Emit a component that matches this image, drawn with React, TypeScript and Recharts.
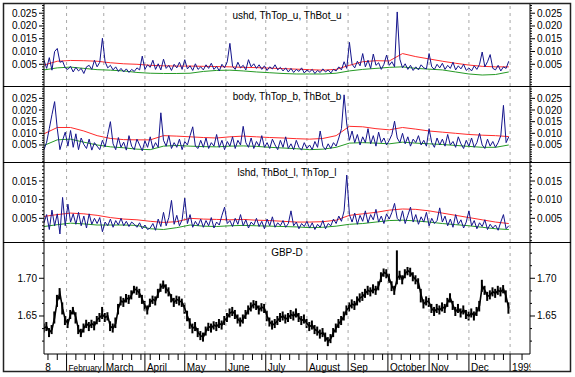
import React from "react";
import { ComposedChart, Line, Bar, XAxis, YAxis, ReferenceLine } from "recharts";

const FONT = "'Liberation Sans', Arial, Helvetica, sans-serif";

// ---- x categories: index i = one step of two calendar days from mid-January 1998 ----
const X_DOMAIN: [number, number] = [0, 183];
const MONTH_POS = [8.5, 22.5, 38, 53, 68.5, 83.5, 99, 114.5, 129.5, 145, 160, 175.5];
const MONTH_LABELS = ["February", "March", "April", "May", "June", "July", "August", "Sep", "October", "Nov", "Dec", "1999"];
const FIRST_POS = 1.5;
const FIRST_LABEL = "8";
const TH_STEP = 5; // threshold lines sampled every 5th index

// ---- panel 1: ushd, ThTop_u, ThBot_u ----
const USHD = [
  0.0066, 0.0034, 0.0076, 0.0027, 0.0100, 0.0112, 0.0058, 0.0062, 0.0036, 0.0030,
  0.0042, 0.0020, 0.0038, 0.0024, 0.0034, 0.0014, 0.0040, 0.0046, 0.0030, 0.0066,
  0.0040, 0.0058, 0.0152, 0.0060, 0.0036, 0.0046, 0.0028, 0.0040, 0.0022, 0.0034,
  0.0020, 0.0032, 0.0018, 0.0030, 0.0022, 0.0036, 0.0028, 0.0082, 0.0030, 0.0048,
  0.0038, 0.0066, 0.0030, 0.0052, 0.0028, 0.0070, 0.0034, 0.0046, 0.0026, 0.0050,
  0.0036, 0.0058, 0.0030, 0.0068, 0.0032, 0.0044, 0.0026, 0.0052, 0.0030, 0.0040,
  0.0028, 0.0048, 0.0034, 0.0054, 0.0030, 0.0042, 0.0024, 0.0050, 0.0036, 0.0060,
  0.0132, 0.0042, 0.0030, 0.0058, 0.0036, 0.0046, 0.0028, 0.0068, 0.0040, 0.0052,
  0.0034, 0.0048, 0.0030, 0.0044, 0.0026, 0.0040, 0.0032, 0.0048, 0.0028, 0.0038,
  0.0024, 0.0036, 0.0020, 0.0034, 0.0018, 0.0030, 0.0022, 0.0036, 0.0016, 0.0028,
  0.0020, 0.0030, 0.0014, 0.0026, 0.0018, 0.0032, 0.0020, 0.0028, 0.0016, 0.0030,
  0.0024, 0.0040, 0.0028, 0.0060, 0.0034, 0.0136, 0.0050, 0.0036, 0.0062, 0.0044,
  0.0092, 0.0040, 0.0066, 0.0034, 0.0090, 0.0046, 0.0056, 0.0030, 0.0050, 0.0086,
  0.0046, 0.0060, 0.0040, 0.0255, 0.0070, 0.0036, 0.0052, 0.0030, 0.0046, 0.0026,
  0.0040, 0.0028, 0.0048, 0.0036, 0.0032, 0.0092, 0.0040, 0.0030, 0.0050, 0.0036,
  0.0054, 0.0030, 0.0046, 0.0034, 0.0058, 0.0028, 0.0044, 0.0032, 0.0050, 0.0026,
  0.0036, 0.0024, 0.0044, 0.0030, 0.0050, 0.0098, 0.0040, 0.0060, 0.0088, 0.0034,
  0.0028, 0.0046, 0.0024, 0.0040, 0.0034, 0.0062,
];
const THTOP_U = [
  0.0047, 0.0062, 0.0065, 0.0064, 0.0062, 0.0056, 0.0052, 0.0050, 0.0046, 0.0044,
  0.0043, 0.0043, 0.0042, 0.0041, 0.0040, 0.0038, 0.0037, 0.0035, 0.0033, 0.0031,
  0.0029, 0.0027, 0.0030, 0.0046, 0.0060, 0.0064, 0.0063, 0.0092, 0.0080, 0.0071,
  0.0062, 0.0054, 0.0047, 0.0042, 0.0040, 0.0040,
];
const THBOT_U = [
  0.0028, 0.0036, 0.0039, 0.0034, 0.0029, 0.0027, 0.0024, 0.0018, 0.0015, 0.0014,
  0.0014, 0.0015, 0.0022, 0.0026, 0.0027, 0.0024, 0.0020, 0.0017, 0.0014, 0.0012,
  0.0012, 0.0012, 0.0015, 0.0024, 0.0030, 0.0034, 0.0038, 0.0040, 0.0034, 0.0031,
  0.0028, 0.0020, 0.0012, 0.0008, 0.0010, 0.0020,
];

// ---- panel 2: body, ThTop_b, ThBot_b ----
const BODY = [
  0.0030, 0.0062, 0.0120, 0.0180, 0.0236, 0.0120, 0.0030, 0.0070, 0.0105, 0.0045,
  0.0112, 0.0040, 0.0098, 0.0030, 0.0080, 0.0052, 0.0035, 0.0075, 0.0028, 0.0060,
  0.0045, 0.0030, 0.0070, 0.0042, 0.0095, 0.0150, 0.0055, 0.0030, 0.0082, 0.0040,
  0.0062, 0.0028, 0.0090, 0.0045, 0.0030, 0.0075, 0.0050, 0.0025, 0.0068, 0.0040,
  0.0085, 0.0035, 0.0060, 0.0040, 0.0188, 0.0070, 0.0045, 0.0090, 0.0035, 0.0060,
  0.0040, 0.0075, 0.0030, 0.0065, 0.0050, 0.0090, 0.0128, 0.0045, 0.0035, 0.0070,
  0.0040, 0.0080, 0.0035, 0.0060, 0.0045, 0.0095, 0.0040, 0.0070, 0.0030, 0.0065,
  0.0045, 0.0085, 0.0035, 0.0070, 0.0050, 0.0130, 0.0060, 0.0040, 0.0080, 0.0035,
  0.0065, 0.0045, 0.0090, 0.0040, 0.0060, 0.0035, 0.0075, 0.0050, 0.0030, 0.0070,
  0.0040, 0.0085, 0.0035, 0.0055, 0.0030, 0.0070, 0.0040, 0.0028, 0.0060, 0.0035,
  0.0050, 0.0030, 0.0065, 0.0040, 0.0110, 0.0045, 0.0030, 0.0055, 0.0035, 0.0060,
  0.0045, 0.0080, 0.0120, 0.0265, 0.0140, 0.0070, 0.0110, 0.0060, 0.0095, 0.0050,
  0.0085, 0.0060, 0.0120, 0.0055, 0.0090, 0.0045, 0.0105, 0.0060, 0.0080, 0.0050,
  0.0070, 0.0095, 0.0152, 0.0080, 0.0060, 0.0100, 0.0055, 0.0085, 0.0045, 0.0075,
  0.0060, 0.0090, 0.0050, 0.0070, 0.0045, 0.0120, 0.0060, 0.0040, 0.0080, 0.0050,
  0.0075, 0.0045, 0.0095, 0.0050, 0.0065, 0.0040, 0.0085, 0.0055, 0.0035, 0.0070,
  0.0045, 0.0080, 0.0040, 0.0060, 0.0100, 0.0050, 0.0035, 0.0075, 0.0045, 0.0065,
  0.0040, 0.0060, 0.0090, 0.0220, 0.0060, 0.0085,
];
const THTOP_B = [
  0.0098, 0.0125, 0.0125, 0.0110, 0.0090, 0.0078, 0.0073, 0.0072, 0.0072, 0.0090,
  0.0088, 0.0085, 0.0082, 0.0080, 0.0085, 0.0088, 0.0085, 0.0082, 0.0080, 0.0077,
  0.0075, 0.0078, 0.0090, 0.0130, 0.0128, 0.0120, 0.0115, 0.0125, 0.0118, 0.0110,
  0.0105, 0.0100, 0.0095, 0.0092, 0.0090, 0.0086,
];
const THBOT_B = [
  0.0048, 0.0072, 0.0075, 0.0062, 0.0050, 0.0042, 0.0038, 0.0032, 0.0030, 0.0045,
  0.0048, 0.0045, 0.0043, 0.0042, 0.0045, 0.0046, 0.0044, 0.0040, 0.0037, 0.0034,
  0.0030, 0.0032, 0.0040, 0.0058, 0.0060, 0.0058, 0.0055, 0.0062, 0.0058, 0.0055,
  0.0052, 0.0048, 0.0044, 0.0040, 0.0040, 0.0050,
];

// ---- panel 3: lshd, ThBot_l, ThTop_l ----
const LSHD = [
  0.0038, 0.0060, 0.0020, 0.0072, 0.0030, 0.0062, 0.0008, 0.0106, 0.0030, 0.0088,
  0.0040, 0.0062, 0.0034, 0.0066, 0.0030, 0.0056, 0.0024, 0.0062, 0.0034, 0.0050,
  0.0036, 0.0052, 0.0014, 0.0040, 0.0030, 0.0048, 0.0026, 0.0044, 0.0032, 0.0050,
  0.0030, 0.0042, 0.0028, 0.0040, 0.0034, 0.0026, 0.0038, 0.0022, 0.0032, 0.0020,
  0.0024, 0.0036, 0.0018, 0.0048, 0.0028, 0.0066, 0.0030, 0.0052, 0.0098, 0.0034,
  0.0058, 0.0030, 0.0046, 0.0104, 0.0036, 0.0060, 0.0026, 0.0042, 0.0030, 0.0048,
  0.0026, 0.0044, 0.0030, 0.0052, 0.0024, 0.0040, 0.0032, 0.0058, 0.0080, 0.0036,
  0.0044, 0.0028, 0.0050, 0.0034, 0.0060, 0.0030, 0.0046, 0.0024, 0.0040, 0.0032,
  0.0050, 0.0028, 0.0042, 0.0022, 0.0048, 0.0030, 0.0054, 0.0026, 0.0038, 0.0030,
  0.0044, 0.0026, 0.0036, 0.0070, 0.0030, 0.0040, 0.0022, 0.0036, 0.0028, 0.0042,
  0.0024, 0.0038, 0.0020, 0.0034, 0.0026, 0.0044, 0.0022, 0.0036, 0.0030, 0.0048,
  0.0036, 0.0056, 0.0042, 0.0070, 0.0166, 0.0060, 0.0040, 0.0064, 0.0034, 0.0058,
  0.0042, 0.0070, 0.0038, 0.0060, 0.0046, 0.0074, 0.0040, 0.0056, 0.0036, 0.0062,
  0.0048, 0.0066, 0.0090, 0.0050, 0.0042, 0.0070, 0.0036, 0.0058, 0.0080, 0.0040,
  0.0060, 0.0034, 0.0054, 0.0040, 0.0066, 0.0030, 0.0050, 0.0036, 0.0044, 0.0078,
  0.0040, 0.0056, 0.0030, 0.0048, 0.0026, 0.0060, 0.0034, 0.0046, 0.0024, 0.0040,
  0.0070, 0.0030, 0.0044, 0.0022, 0.0038, 0.0028, 0.0046, 0.0020, 0.0034, 0.0024,
  0.0032, 0.0018, 0.0040, 0.0060, 0.0022, 0.0030,
];
const THTOP_L = [
  0.0055, 0.0060, 0.0064, 0.0062, 0.0058, 0.0052, 0.0048, 0.0046, 0.0042, 0.0039,
  0.0041, 0.0050, 0.0048, 0.0047, 0.0046, 0.0047, 0.0045, 0.0044, 0.0042, 0.0040,
  0.0040, 0.0041, 0.0045, 0.0058, 0.0062, 0.0066, 0.0072, 0.0075, 0.0074, 0.0070,
  0.0064, 0.0058, 0.0052, 0.0046, 0.0040, 0.0036,
];
const THBOT_L = [
  0.0028, 0.0033, 0.0037, 0.0035, 0.0032, 0.0032, 0.0032, 0.0031, 0.0022, 0.0020,
  0.0025, 0.0032, 0.0029, 0.0028, 0.0030, 0.0031, 0.0030, 0.0029, 0.0028, 0.0027,
  0.0025, 0.0026, 0.0029, 0.0034, 0.0036, 0.0040, 0.0044, 0.0045, 0.0043, 0.0040,
  0.0036, 0.0033, 0.0030, 0.0026, 0.0022, 0.0020,
];

// ---- panel 4: GBP-D price bars ----
const GBP_HIGH = [
  1.640, 1.642, 1.634, 1.638, 1.656, 1.678, 1.687, 1.668, 1.650, 1.646,
  1.658, 1.662, 1.655, 1.638, 1.633, 1.640, 1.645, 1.642, 1.645, 1.643,
  1.650, 1.654, 1.662, 1.654, 1.655, 1.643, 1.640, 1.648, 1.666, 1.676,
  1.674, 1.679, 1.678, 1.684, 1.690, 1.689, 1.686, 1.678, 1.670, 1.664,
  1.673, 1.677, 1.676, 1.686, 1.693, 1.697, 1.692, 1.688, 1.679, 1.674,
  1.677, 1.676, 1.673, 1.667, 1.657, 1.647, 1.640, 1.642, 1.634, 1.630,
  1.628, 1.636, 1.641, 1.640, 1.643, 1.642, 1.646, 1.644, 1.650, 1.654,
  1.660, 1.662, 1.658, 1.652, 1.648, 1.652, 1.658, 1.664, 1.668, 1.671,
  1.670, 1.664, 1.667, 1.666, 1.657, 1.648, 1.644, 1.646, 1.650, 1.654,
  1.656, 1.652, 1.654, 1.658, 1.656, 1.660, 1.654, 1.650, 1.652, 1.646,
  1.642, 1.644, 1.638, 1.636, 1.632, 1.634, 1.628, 1.622, 1.626, 1.634,
  1.640, 1.646, 1.650, 1.656, 1.664, 1.668, 1.672, 1.670, 1.676, 1.680,
  1.682, 1.686, 1.690, 1.688, 1.692, 1.690, 1.696, 1.708, 1.713, 1.712,
  1.706, 1.696, 1.690, 1.737, 1.710, 1.704, 1.712, 1.715, 1.714, 1.708,
  1.704, 1.700, 1.686, 1.672, 1.676, 1.674, 1.666, 1.662, 1.666, 1.664,
  1.668, 1.666, 1.674, 1.680, 1.670, 1.662, 1.666, 1.660, 1.664, 1.658,
  1.656, 1.660, 1.656, 1.662, 1.670, 1.698, 1.690, 1.682, 1.684, 1.688,
  1.686, 1.690, 1.688, 1.691, 1.684, 1.668,
];
const GBP_LOW = [
  1.628, 1.630, 1.622, 1.626, 1.640, 1.662, 1.672, 1.652, 1.638, 1.634,
  1.646, 1.652, 1.640, 1.626, 1.622, 1.628, 1.634, 1.630, 1.634, 1.631,
  1.639, 1.642, 1.646, 1.642, 1.644, 1.630, 1.628, 1.634, 1.652, 1.664,
  1.662, 1.668, 1.666, 1.672, 1.680, 1.678, 1.674, 1.666, 1.657, 1.652,
  1.662, 1.666, 1.664, 1.674, 1.682, 1.686, 1.680, 1.676, 1.668, 1.662,
  1.666, 1.664, 1.662, 1.653, 1.643, 1.633, 1.627, 1.630, 1.622, 1.618,
  1.616, 1.624, 1.630, 1.628, 1.632, 1.630, 1.634, 1.632, 1.638, 1.642,
  1.648, 1.650, 1.646, 1.640, 1.636, 1.640, 1.646, 1.652, 1.656, 1.660,
  1.658, 1.652, 1.656, 1.654, 1.643, 1.636, 1.632, 1.634, 1.638, 1.642,
  1.644, 1.640, 1.642, 1.646, 1.644, 1.648, 1.642, 1.638, 1.640, 1.634,
  1.630, 1.632, 1.626, 1.624, 1.620, 1.622, 1.616, 1.610, 1.614, 1.622,
  1.628, 1.634, 1.638, 1.644, 1.651, 1.656, 1.660, 1.658, 1.664, 1.668,
  1.670, 1.674, 1.678, 1.676, 1.680, 1.678, 1.684, 1.695, 1.702, 1.700,
  1.694, 1.683, 1.678, 1.692, 1.698, 1.692, 1.700, 1.704, 1.702, 1.696,
  1.692, 1.686, 1.668, 1.660, 1.664, 1.662, 1.654, 1.650, 1.654, 1.652,
  1.656, 1.654, 1.662, 1.668, 1.658, 1.650, 1.654, 1.648, 1.652, 1.646,
  1.644, 1.648, 1.644, 1.650, 1.656, 1.682, 1.678, 1.670, 1.672, 1.676,
  1.674, 1.678, 1.676, 1.680, 1.668, 1.653,
];
const GBP_CLOSE = [
  1.634, 1.636, 1.628, 1.632, 1.648, 1.670, 1.680, 1.660, 1.645, 1.640,
  1.652, 1.658, 1.648, 1.632, 1.627, 1.634, 1.640, 1.636, 1.640, 1.637,
  1.645, 1.648, 1.652, 1.648, 1.650, 1.636, 1.634, 1.640, 1.660, 1.670,
  1.668, 1.674, 1.672, 1.678, 1.686, 1.684, 1.680, 1.672, 1.664, 1.658,
  1.668, 1.672, 1.670, 1.680, 1.688, 1.692, 1.686, 1.682, 1.674, 1.668,
  1.672, 1.670, 1.668, 1.660, 1.650, 1.640, 1.634, 1.636, 1.628, 1.624,
  1.622, 1.630, 1.636, 1.634, 1.638, 1.636, 1.640, 1.638, 1.644, 1.648,
  1.654, 1.656, 1.652, 1.646, 1.642, 1.646, 1.652, 1.658, 1.662, 1.666,
  1.664, 1.658, 1.662, 1.660, 1.650, 1.642, 1.638, 1.640, 1.644, 1.648,
  1.650, 1.646, 1.648, 1.652, 1.650, 1.654, 1.648, 1.644, 1.646, 1.640,
  1.636, 1.638, 1.632, 1.630, 1.626, 1.628, 1.622, 1.616, 1.620, 1.628,
  1.634, 1.640, 1.644, 1.650, 1.658, 1.662, 1.666, 1.664, 1.670, 1.674,
  1.676, 1.680, 1.684, 1.682, 1.686, 1.684, 1.690, 1.702, 1.708, 1.706,
  1.700, 1.690, 1.684, 1.700, 1.704, 1.698, 1.706, 1.710, 1.708, 1.702,
  1.698, 1.694, 1.678, 1.666, 1.670, 1.668, 1.660, 1.656, 1.660, 1.658,
  1.662, 1.660, 1.668, 1.674, 1.664, 1.656, 1.660, 1.654, 1.658, 1.652,
  1.650, 1.654, 1.650, 1.656, 1.664, 1.690, 1.684, 1.676, 1.678, 1.682,
  1.680, 1.684, 1.682, 1.686, 1.676, 1.660,
];

// ---- y-axis tick labels ----
const MAJOR_U = [0.005, 0.01, 0.015, 0.02, 0.025];
const MAJOR_B = [0.005, 0.01, 0.015, 0.02, 0.025];
const MAJOR_L = [0.005, 0.01, 0.015];
const MAJOR_P = [1.65, 1.7];

// ---- layout ----
const W = 575;
const PLOT_L = 44;
const PLOT_R = 530;
const PX = (PLOT_R - PLOT_L) / (X_DOMAIN[1] - X_DOMAIN[0]);
const BLUE = "#14148c";
const RED = "#ff2b2b";
const GREEN = "#259a25";
const GRID = "#a8a8a8";
const LABEL_W = 5.08; // approx. average glyph width at 10px

const series = (arr: number[], step = 1) => arr.map((v, k) => ({ x: k * step, v }));
const rangeTicks = (lo: number, hi: number, step: number) => {
  const out: number[] = [];
  const n0 = Math.ceil(lo / step - 1e-9);
  const n1 = Math.floor(hi / step + 1e-9);
  for (let n = n0; n <= n1; n++) out.push(+(n * step).toFixed(6));
  return out;
};

const WEEK_TICKS = Array.from({ length: 52 }, (_, k) => FIRST_POS + 3.5 * k).filter(
  (t) => t <= X_DOMAIN[1] && MONTH_POS.every((m) => Math.abs(m - t) > 1.2)
);
const X_TICKS = [...WEEK_TICKS, ...MONTH_POS].sort((a, b) => a - b);

const makeYTick = (majors: number[], digits: number, side: "left" | "right") => (props: any) => {
  const { x, y, payload } = props;
  const v = payload.value as number;
  const isMajor = majors.some((m) => Math.abs(m - v) < 1e-7);
  const dir = side === "left" ? -1 : 1;
  const len = isMajor ? 5 : 2;
  return (
    <g>
      <line x1={x} x2={x + dir * len} y1={y} y2={y} stroke="#000" strokeWidth={1} />
      {isMajor && (
        <text
          x={x + dir * 7}
          y={y}
          dy="0.35em"
          textAnchor={side === "left" ? "end" : "start"}
          fontSize={10}
          fontFamily={FONT}
          fill="#000"
        >
          {v.toFixed(digits)}
        </text>
      )}
    </g>
  );
};

const XTick = (props: any) => {
  const { x, y, payload } = props;
  const v = payload.value as number;
  const mi = MONTH_POS.findIndex((m) => Math.abs(m - v) < 1e-6);
  if (mi >= 0) {
    const isLast = mi === MONTH_POS.length - 1;
    const label = MONTH_LABELS[mi];
    if (isLast) {
      const room = PLOT_R + 1 - x;
      return (
        <g>
          <line x1={x} x2={x} y1={y} y2={y + 18} stroke="#000" strokeWidth={1} />
          <svg x={x + 1} y={y} width={Math.max(1, room - 1.5)} height={20} overflow="hidden">
            <text x={1} y={16.5} fontSize={10} fontFamily={FONT} fill="#000">
              {label}
            </text>
          </svg>
        </g>
      );
    }
    const room = (MONTH_POS[mi + 1] - v) * PX;
    const natural = label.length * LABEL_W;
    const fs = natural > room - 3.5 ? Math.max(7, (10 * (room - 3.5)) / natural) : 10;
    return (
      <g>
        <line x1={x} x2={x} y1={y} y2={y + 18} stroke="#000" strokeWidth={1} />
        <text x={x + 2} y={y + 16.5} fontSize={fs} fontFamily={FONT} fill="#000">
          {label}
        </text>
      </g>
    );
  }
  const isFirst = Math.abs(v - FIRST_POS) < 1e-6;
  return (
    <g>
      <line x1={x} x2={x} y1={y} y2={y + 6} stroke="#000" strokeWidth={1} />
      {isFirst && (
        <text x={x} y={y + 16.5} textAnchor="middle" fontSize={10} fontFamily={FONT} fill="#000">
          {FIRST_LABEL}
        </text>
      )}
    </g>
  );
};

type PanelProps = {
  top: number;
  height: number;
  blue: number[];
  red: number[];
  green: number[];
  domain: [number, number];
  majors: number[];
};

function ThPanel({ top, height, blue, red, green, domain, majors }: PanelProps) {
  const ticks = rangeTicks(domain[0], domain[1], 0.001);
  return (
    <div style={{ position: "absolute", left: 0, top, width: W, height }}>
      <ComposedChart width={W} height={height} data={series(blue)} margin={{ top: 0, right: 4, bottom: 0, left: 4 }}>
        <XAxis type="number" dataKey="x" domain={X_DOMAIN} hide allowDataOverflow />
        <YAxis
          yAxisId="l"
          orientation="left"
          width={40}
          domain={domain}
          allowDataOverflow
          ticks={ticks}
          interval={0}
          tickSize={0}
          tickMargin={0}
          tickLine={false}
          axisLine={{ stroke: "#000" }}
          tick={makeYTick(majors, 3, "left")}
        />
        <YAxis
          yAxisId="r"
          orientation="right"
          width={41}
          domain={domain}
          allowDataOverflow
          ticks={ticks}
          interval={0}
          tickSize={0}
          tickMargin={0}
          tickLine={false}
          axisLine={{ stroke: "#000" }}
          tick={makeYTick(majors, 3, "right")}
        />
        {MONTH_POS.map((m) => (
          <ReferenceLine key={m} x={m} yAxisId="l" stroke={GRID} strokeDasharray="3 4" />
        ))}
        <Line yAxisId="l" data={series(red, TH_STEP)} dataKey="v" stroke={RED} strokeWidth={1} dot={false} isAnimationActive={false} />
        <Line yAxisId="l" data={series(green, TH_STEP)} dataKey="v" stroke={GREEN} strokeWidth={1} dot={false} isAnimationActive={false} />
        <Line yAxisId="l" dataKey="v" stroke={BLUE} strokeWidth={1} dot={false} isAnimationActive={false} />
      </ComposedChart>
    </div>
  );
}

const PRICE_DATA = GBP_CLOSE.map((c, k) => ({ x: k, c, range: [GBP_LOW[k], GBP_HIGH[k]] }));
const PRICE_DOMAIN: [number, number] = [1.5996, 1.7481];
const PRICE_TICKS = [1.6167, 1.6333, 1.65, 1.6667, 1.6833, 1.7, 1.7167, 1.7333];

function PricePanel() {
  const top = 242;
  const height = 135;
  return (
    <div style={{ position: "absolute", left: 0, top, width: W, height }}>
      <ComposedChart width={W} height={height} data={PRICE_DATA} margin={{ top: 0, right: 4, bottom: 3, left: 4 }}>
        <XAxis
          type="number"
          dataKey="x"
          domain={X_DOMAIN}
          allowDataOverflow
          ticks={X_TICKS}
          interval={0}
          height={20}
          tickSize={0}
          tickMargin={0}
          tickLine={false}
          axisLine={{ stroke: "#000" }}
          tick={<XTick />}
        />
        <YAxis
          yAxisId="l"
          orientation="left"
          width={40}
          domain={PRICE_DOMAIN}
          allowDataOverflow
          ticks={PRICE_TICKS}
          interval={0}
          tickSize={0}
          tickMargin={0}
          tickLine={false}
          axisLine={{ stroke: "#000" }}
          tick={makeYTick(MAJOR_P, 2, "left")}
        />
        <YAxis
          yAxisId="r"
          orientation="right"
          width={41}
          domain={PRICE_DOMAIN}
          allowDataOverflow
          ticks={PRICE_TICKS}
          interval={0}
          tickSize={0}
          tickMargin={0}
          tickLine={false}
          axisLine={{ stroke: "#000" }}
          tick={makeYTick(MAJOR_P, 2, "right")}
        />
        {MONTH_POS.map((m) => (
          <ReferenceLine key={m} x={m} yAxisId="l" stroke={GRID} strokeDasharray="3 4" />
        ))}
        <Bar yAxisId="l" dataKey="range" fill="#000" barSize={2} isAnimationActive={false} />
        <Line yAxisId="l" dataKey="c" stroke="#000" strokeWidth={1.6} dot={false} isAnimationActive={false} />
      </ComposedChart>
    </div>
  );
}

const TITLES = [
  { y: 19, text: "ushd, ThTop_u, ThBot_u" },
  { y: 100, text: "body, ThTop_b, ThBot_b" },
  { y: 176, text: "lshd, ThBot_l, ThTop_l" },
  { y: 256, text: "GBP-D" },
];

export default function App() {
  return (
    <div
      style={{
        position: "absolute",
        left: 0,
        top: 0,
        width: W,
        height: 377,
        background: "#fff",
        fontFamily: FONT,
        overflow: "hidden",
      }}
    >
      <ThPanel top={3} height={83} blue={USHD} red={THTOP_U} green={THBOT_U} domain={[-0.0035, 0.029]} majors={MAJOR_U} />
      <ThPanel top={86} height={76} blue={BODY} red={THTOP_B} green={THBOT_B} domain={[-0.0023, 0.0303]} majors={MAJOR_B} />
      <ThPanel top={162} height={80} blue={LSHD} red={THTOP_L} green={THBOT_L} domain={[-0.00135, 0.0201]} majors={MAJOR_L} />
      <PricePanel />
      <svg
        width={W}
        height={377}
        style={{ position: "absolute", left: 0, top: 0, pointerEvents: "none" }}
      >
        <rect x={3.5} y={3.5} width={567} height={368} fill="none" stroke="#222" strokeWidth={1.5} />
        {[86, 162, 242].map((y) => (
          <line key={y} x1={3} x2={571} y1={y + 0.5} y2={y + 0.5} stroke="#000" strokeWidth={1} />
        ))}
        {TITLES.map((t) => (
          <text key={t.text} x={287} y={t.y} textAnchor="middle" fontSize={10} fontFamily={FONT} fill="#000">
            {t.text}
          </text>
        ))}
      </svg>
    </div>
  );
}
